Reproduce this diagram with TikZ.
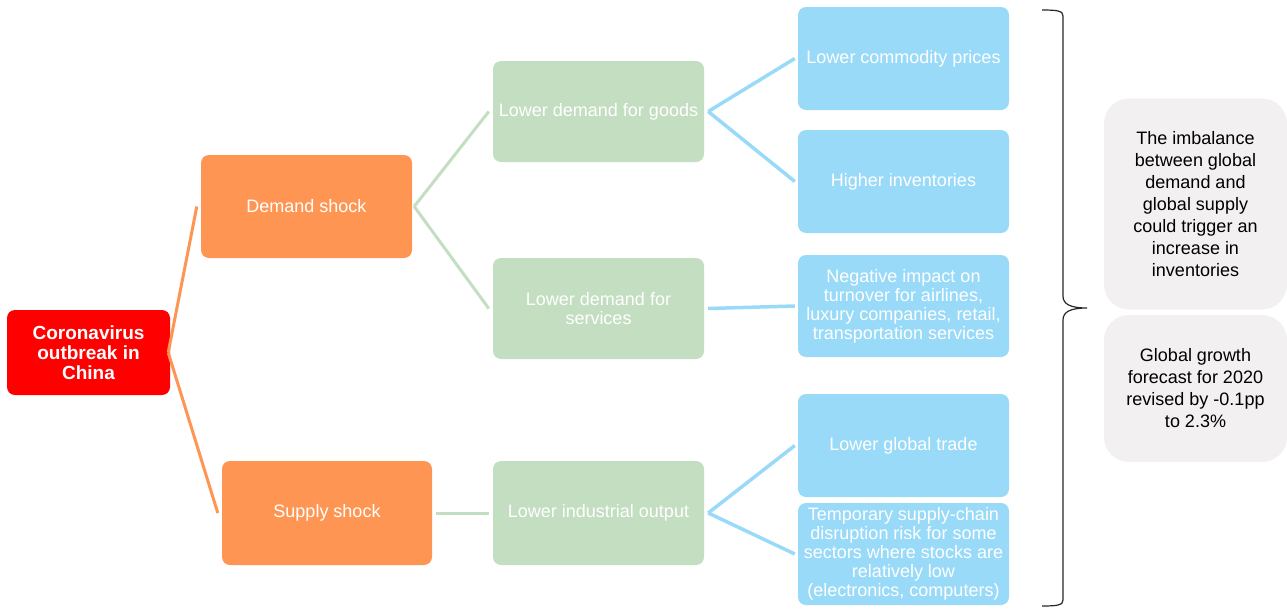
\documentclass[tikz,border=0pt]{standalone}
\usepackage{fontspec}
\setmainfont{Liberation Sans}
\usetikzlibrary{calc}

\definecolor{rootred}{HTML}{FF0000}
\definecolor{shockorange}{HTML}{FF9552}
\definecolor{effectgreen}{HTML}{C3DEC0}
\definecolor{impactblue}{HTML}{99DAF9}
\definecolor{notegray}{HTML}{F2F0F0}

\begin{document}
\begin{tikzpicture}[x=1pt, y=-1pt,
  box/.style={rounded corners=8pt, text=white, align=center, inner sep=2pt,
              font=\fontsize{18}{19}\selectfont},
  rootbox/.style={box, fill=rootred, minimum width=163pt, minimum height=85pt,
                  font=\fontsize{19}{20}\selectfont\bfseries},
  shockbox/.style={box, fill=shockorange, minimum width=211pt, minimum height=103pt},
  effectbox/.style={box, fill=effectgreen, minimum width=211pt, minimum height=101pt},
  impactbox/.style={box, fill=impactblue, minimum width=211pt, minimum height=103pt},
  notebox/.style={rounded corners=25pt, fill=notegray, text=black, align=center,
                  minimum width=183pt, font=\fontsize{18}{22}\selectfont},
  shockline/.style={shockorange, line width=3pt},
  effectline/.style={effectgreen, line width=3pt},
  impactline/.style={impactblue, line width=3.5pt}]

  \useasboundingbox (0, 0) rectangle (1287, 608);

  % 1. ROOT
  \node[rootbox] (root) at (88.5, 352.5) {Coronavirus\\outbreak in\\China};

  % 2. SHOCKS
  \node[shockbox] (demand) at (306.5, 206.5) {Demand shock};
  \node[shockbox, minimum width=210pt, minimum height=104pt] (supply) at (327, 513) {Supply shock};

  % 3. FIRST EFFECTS
  \node[effectbox] (goods) at (598.5, 111.5) {Lower demand for goods};
  \node[effectbox] (services) at (598.5, 308.5) {Lower demand for\\services};
  \node[effectbox, minimum height=104pt] (industry) at (598.5, 513) {Lower industrial output};

  % 4. IMPACTS
  \node[impactbox] (prices) at (903.5, 58.5) {Lower commodity prices};
  \node[impactbox] (inventories) at (903.5, 181.5) {Higher inventories};
  \node[impactbox, minimum height=102pt] (turnover) at (903.5, 306) {Negative impact on\\turnover for airlines,\\luxury companies, retail,\\transportation services};
  \node[impactbox] (trade) at (903.5, 445.5) {Lower global trade};
  \node[impactbox, minimum height=102pt] (chain) at (903.5, 554) {Temporary supply-chain\\disruption risk for some\\sectors where stocks are\\relatively low\\(electronics, computers)};

  % 5. CONNECTORS
  \draw[shockline] ([xshift=-2pt]root.east) -- ([xshift=-4pt]demand.west);
  \draw[shockline] ([xshift=-2pt]root.east) -- ([xshift=-4pt]supply.west);

  \draw[effectline] ([xshift=2pt]demand.east) -- ([xshift=-4pt]goods.west);
  \draw[effectline] ([xshift=2pt]demand.east) -- ([xshift=-4pt]services.west);
  \draw[effectline] ([xshift=4pt]supply.east) -- ([xshift=-4pt]industry.west);

  \draw[impactline] ([xshift=4pt]goods.east) -- ([xshift=-3pt]prices.west);
  \draw[impactline] ([xshift=4pt]goods.east) -- ([xshift=-3pt]inventories.west);
  \draw[impactline] ([xshift=4pt]services.east) -- ([xshift=-3pt]turnover.west);
  \draw[impactline] ([xshift=4pt]industry.east) -- ([xshift=-3pt]trade.west);
  \draw[impactline] ([xshift=4pt]industry.east) -- ([xshift=-3pt]chain.west);

  % 6. BRACE
  \draw[black!85, line width=1.2pt]
    (1042, 10) .. controls (1058, 10) and (1063, 11) .. (1063, 16)
    -- (1063, 296) .. controls (1063, 304) and (1070, 308) .. (1087, 308)
    .. controls (1070, 308) and (1063, 312) .. (1063, 320)
    -- (1063, 600) .. controls (1063, 605) and (1058, 606) .. (1042, 606);

  % 7. NOTES
  \node[notebox, minimum height=211pt] (imbalance) at (1195.5, 204)
    {The imbalance\\between global\\demand and\\global supply\\could trigger an\\increase in\\inventories};
  \node[notebox, minimum height=147pt] (growth) at (1195.5, 388.5)
    {Global growth\\forecast for 2020\\revised by -0.1pp\\to 2.3\%};

\end{tikzpicture}
\end{document}
